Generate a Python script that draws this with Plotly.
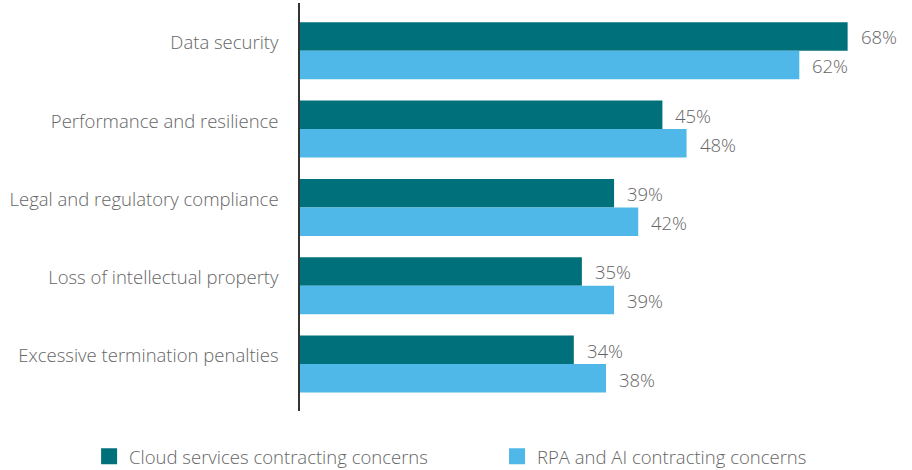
import plotly.graph_objects as go

categories = ["Data security", "Performance and resilience", "Legal and regulatory compliance",
              "Loss of intellectual property", "Excessive termination penalties"]
cloud = [68, 45, 39, 35, 34]
rpa = [62, 48, 42, 39, 38]
series_names = ["Cloud services contracting concerns", "RPA and AI contracting concerns"]
colors = ["#00707A", "#4FB8E8"]
text_color = "#666666"
FONT = "Open Sans"
FS = 18.5

fig = go.Figure()
legend_ids = ["legend", "legend2"]
for name, vals, col, lg in zip(series_names, [cloud, rpa], colors, legend_ids):
    fig.add_trace(go.Bar(y=categories, x=vals, orientation="h", name=name,
                         marker=dict(color=col, line=dict(width=0)), showlegend=False,
                         hoverinfo="skip"))
    fig.add_trace(go.Scatter(x=[None], y=[None], mode="markers", name=name, legend=lg,
                             marker=dict(symbol="square", size=18, color=col)))

annotations = []
for vals, ysh in [(cloud, 14), (rpa, -15)]:
    for c, v in zip(categories, vals):
        annotations.append(dict(x=v, y=c, text=f"{v}%", showarrow=False, xanchor="left",
                                xshift=11, yshift=ysh,
                                font=dict(family=FONT, size=FS, weight=300, color=text_color)))

legend_font = dict(family=FONT, size=FS, weight=300, color=text_color)
fig.update_layout(
    width=912, height=470,
    margin=dict(l=300, r=8, t=3, b=59, autoexpand=False),
    plot_bgcolor="white", paper_bgcolor="white",
    font=dict(family=FONT, size=FS, weight=300, color=text_color),
    barmode="group", bargap=0.272, bargroupgap=0,
    xaxis=dict(range=[0, 75], showgrid=False, zeroline=False, showticklabels=False,
               showline=False, fixedrange=True),
    yaxis=dict(range=[4.6, -0.61], showgrid=False, zeroline=False, showline=True,
               linecolor="#333333", linewidth=1.5, ticks="", ticklabelstandoff=16,
               ticklabelshift=8,
               tickfont=dict(family=FONT, size=FS, weight=300, color=text_color)),
    legend=dict(orientation="h", xref="container", yref="container", x=0.0977, y=0.028,
                xanchor="left", yanchor="middle", font=legend_font, itemwidth=30),
    legend2=dict(orientation="h", xref="container", yref="container", x=0.545, y=0.028,
                 xanchor="left", yanchor="middle", font=legend_font, itemwidth=30),
    annotations=annotations,
)
fig.write_html("out.html", config={"displayModeBar": False},
               post_script="document.body.style.margin='0';document.body.style.padding='0';")
